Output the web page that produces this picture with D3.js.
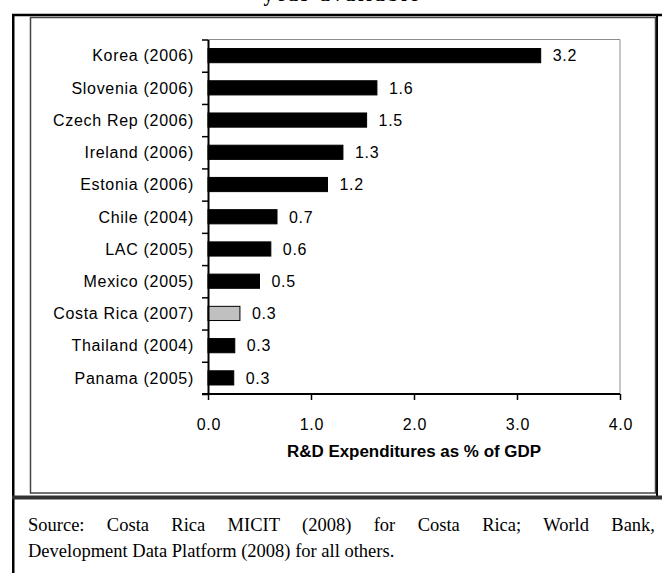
<!DOCTYPE html>
<html>
<head>
<meta charset="utf-8">
<script src="https://cdn.jsdelivr.net/npm/d3@7"></script>
<style>
  html, body { margin: 0; padding: 0; background: #fff; }
  svg { display: block; }
</style>
</head>
<body>
<svg id="chart" width="662" height="573"></svg>
<script>
// R&D expenditures as a share of GDP, latest year available
const categories = [
  "Korea (2006)", "Slovenia (2006)", "Czech Rep (2006)", "Ireland (2006)",
  "Estonia (2006)", "Chile (2004)", "LAC (2005)", "Mexico (2005)",
  "Costa Rica (2007)", "Thailand (2004)", "Panama (2005)"
];
const values = [3.23, 1.64, 1.54, 1.31, 1.16, 0.67, 0.61, 0.50, 0.31, 0.26, 0.25];
const highlighted = ["Costa Rica (2007)"];
const xTicks = [0, 1, 2, 3, 4];
const xDomain = [0, 4];
const titleText = "year available";
const axisTitle = "R&D Expenditures as % of GDP";
const sourceLines = [
  "Source: Costa Rica MICIT (2008) for Costa Rica; World Bank,",
  "Development Data Platform (2008) for all others."
];

const svg = d3.select("#chart");
const sans = "'Liberation Sans', Arial, sans-serif";
const serif = "'Liberation Serif', 'Times New Roman', serif";
const labelSize = 16;
const labelSpacing = 0.7;

// Plot area
const plot = { left: 208, right: 620, top: 39.5, bottom: 394 };

const x = d3.scaleLinear().domain(xDomain).range([plot.left, plot.right]);
const y = d3.scaleBand().domain(categories)
  .range([plot.top, plot.bottom])
  .paddingInner(0.56).paddingOuter(0.28);
// category boundaries for the tick marks between bars
const yEdge = d3.scaleLinear().domain([0, categories.length]).range([plot.top, plot.bottom]);

// Heading line (runs off the top edge of the page)
svg.append("text")
  .attr("x", 341).attr("y", 1)
  .attr("text-anchor", "middle")
  .attr("font-family", serif).attr("font-weight", "bold")
  .attr("font-size", 20)
  .attr("textLength", 155).attr("lengthAdjust", "spacing")
  .text(titleText);

// Outer frame
const frame = svg.append("g").attr("fill", "none");
frame.append("line").attr("x1", 12).attr("x2", 662).attr("y1", 15).attr("y2", 15)
  .attr("stroke", "#000").attr("stroke-width", 2.5);
frame.append("line").attr("x1", 13.25).attr("x2", 13.25).attr("y1", 14).attr("y2", 573)
  .attr("stroke", "#000").attr("stroke-width", 2.5);
frame.append("line").attr("x1", 657).attr("x2", 657).attr("y1", 14).attr("y2", 496)
  .attr("stroke", "#000").attr("stroke-width", 2);
// Chart panel
frame.append("rect").attr("x", 30.5).attr("y", 17.5).attr("width", 625).attr("height", 475.5)
  .attr("stroke", "#444").attr("stroke-width", 1.5);
// Separator above the source note
frame.append("line").attr("x1", 12).attr("x2", 662).attr("y1", 497.5).attr("y2", 497.5)
  .attr("stroke", "#333").attr("stroke-width", 4);

// Plot area border (top and right)
svg.append("path")
  .attr("d", `M${plot.left},${plot.top}H${plot.right}V${plot.bottom}`)
  .attr("fill", "none").attr("stroke", "#8c8c8c").attr("stroke-width", 1);

// Bars
svg.append("g").selectAll("rect")
  .data(categories)
  .join("rect")
  .attr("x", x(0))
  .attr("y", d => y(d))
  .attr("width", (d, i) => x(values[i]) - x(0))
  .attr("height", y.bandwidth())
  .attr("fill", d => highlighted.includes(d) ? "#c0c0c0" : "#000")
  .attr("stroke", "#000")
  .attr("stroke-width", 1);

// Value labels
const fmt = d3.format(".1f");
svg.append("g").selectAll("text")
  .data(categories)
  .join("text")
  .attr("x", (d, i) => x(values[i]) + 12)
  .attr("y", d => y(d) + y.bandwidth() / 2)
  .attr("dy", "0.36em")
  .attr("font-family", sans).attr("font-size", labelSize)
  .attr("letter-spacing", labelSpacing)
  .attr("fill", "#000")
  .text((d, i) => fmt(values[i]));

// Category axis: ticks at category boundaries
const yAxisG = svg.append("g").attr("transform", `translate(${plot.left},0)`)
  .call(d3.axisLeft(yEdge).tickValues(d3.range(categories.length + 1))
    .tickSize(6).tickSizeOuter(0).tickFormat(""));
yAxisG.select(".domain").attr("stroke", "#000").attr("stroke-width", 2);
yAxisG.selectAll(".tick line").attr("stroke", "#000").attr("stroke-width", 1.5);

svg.append("g").selectAll("text")
  .data(categories)
  .join("text")
  .attr("x", 194)
  .attr("y", d => y(d) + y.bandwidth() / 2)
  .attr("dy", "0.36em")
  .attr("text-anchor", "end")
  .attr("font-family", sans).attr("font-size", labelSize)
  .attr("letter-spacing", labelSpacing)
  .attr("fill", "#000")
  .text(d => d);

// Value axis
const xAxisG = svg.append("g").attr("transform", `translate(0,${plot.bottom})`)
  .call(d3.axisBottom(x).tickValues(xTicks).tickSize(6).tickSizeOuter(0).tickFormat(d3.format(".1f")));
xAxisG.select(".domain").remove();
xAxisG.append("line").attr("x1", plot.left - 6).attr("x2", plot.right)
  .attr("stroke", "#000").attr("stroke-width", 2);
xAxisG.selectAll(".tick line").attr("stroke", "#000").attr("stroke-width", 1.5);
xAxisG.selectAll(".tick text")
  .attr("y", 0).attr("dy", 0)
  .attr("transform", "translate(0.4,36)")
  .attr("font-family", sans).attr("font-size", labelSize)
  .attr("letter-spacing", labelSpacing)
  .attr("fill", "#000");

svg.append("text")
  .attr("x", (plot.left + plot.right) / 2).attr("y", 457)
  .attr("text-anchor", "middle")
  .attr("font-family", sans).attr("font-size", 16).attr("font-weight", "bold")
  .attr("textLength", 254).attr("lengthAdjust", "spacingAndGlyphs")
  .attr("fill", "#000")
  .text(axisTitle);

// Source note, first line justified to the full width
const src = svg.append("g")
  .attr("font-family", serif).attr("font-size", 18.5).attr("fill", "#000");
sourceLines.forEach((line, i) => {
  const t = src.append("text").attr("x", 28).attr("y", 531 + i * 26).text(line);
  if (i < sourceLines.length - 1) {
    const natural = t.node().getComputedTextLength();
    const gaps = line.split(" ").length - 1;
    t.attr("word-spacing", (655 - 28 - natural) / gaps);
  }
});
</script>
</body>
</html>
